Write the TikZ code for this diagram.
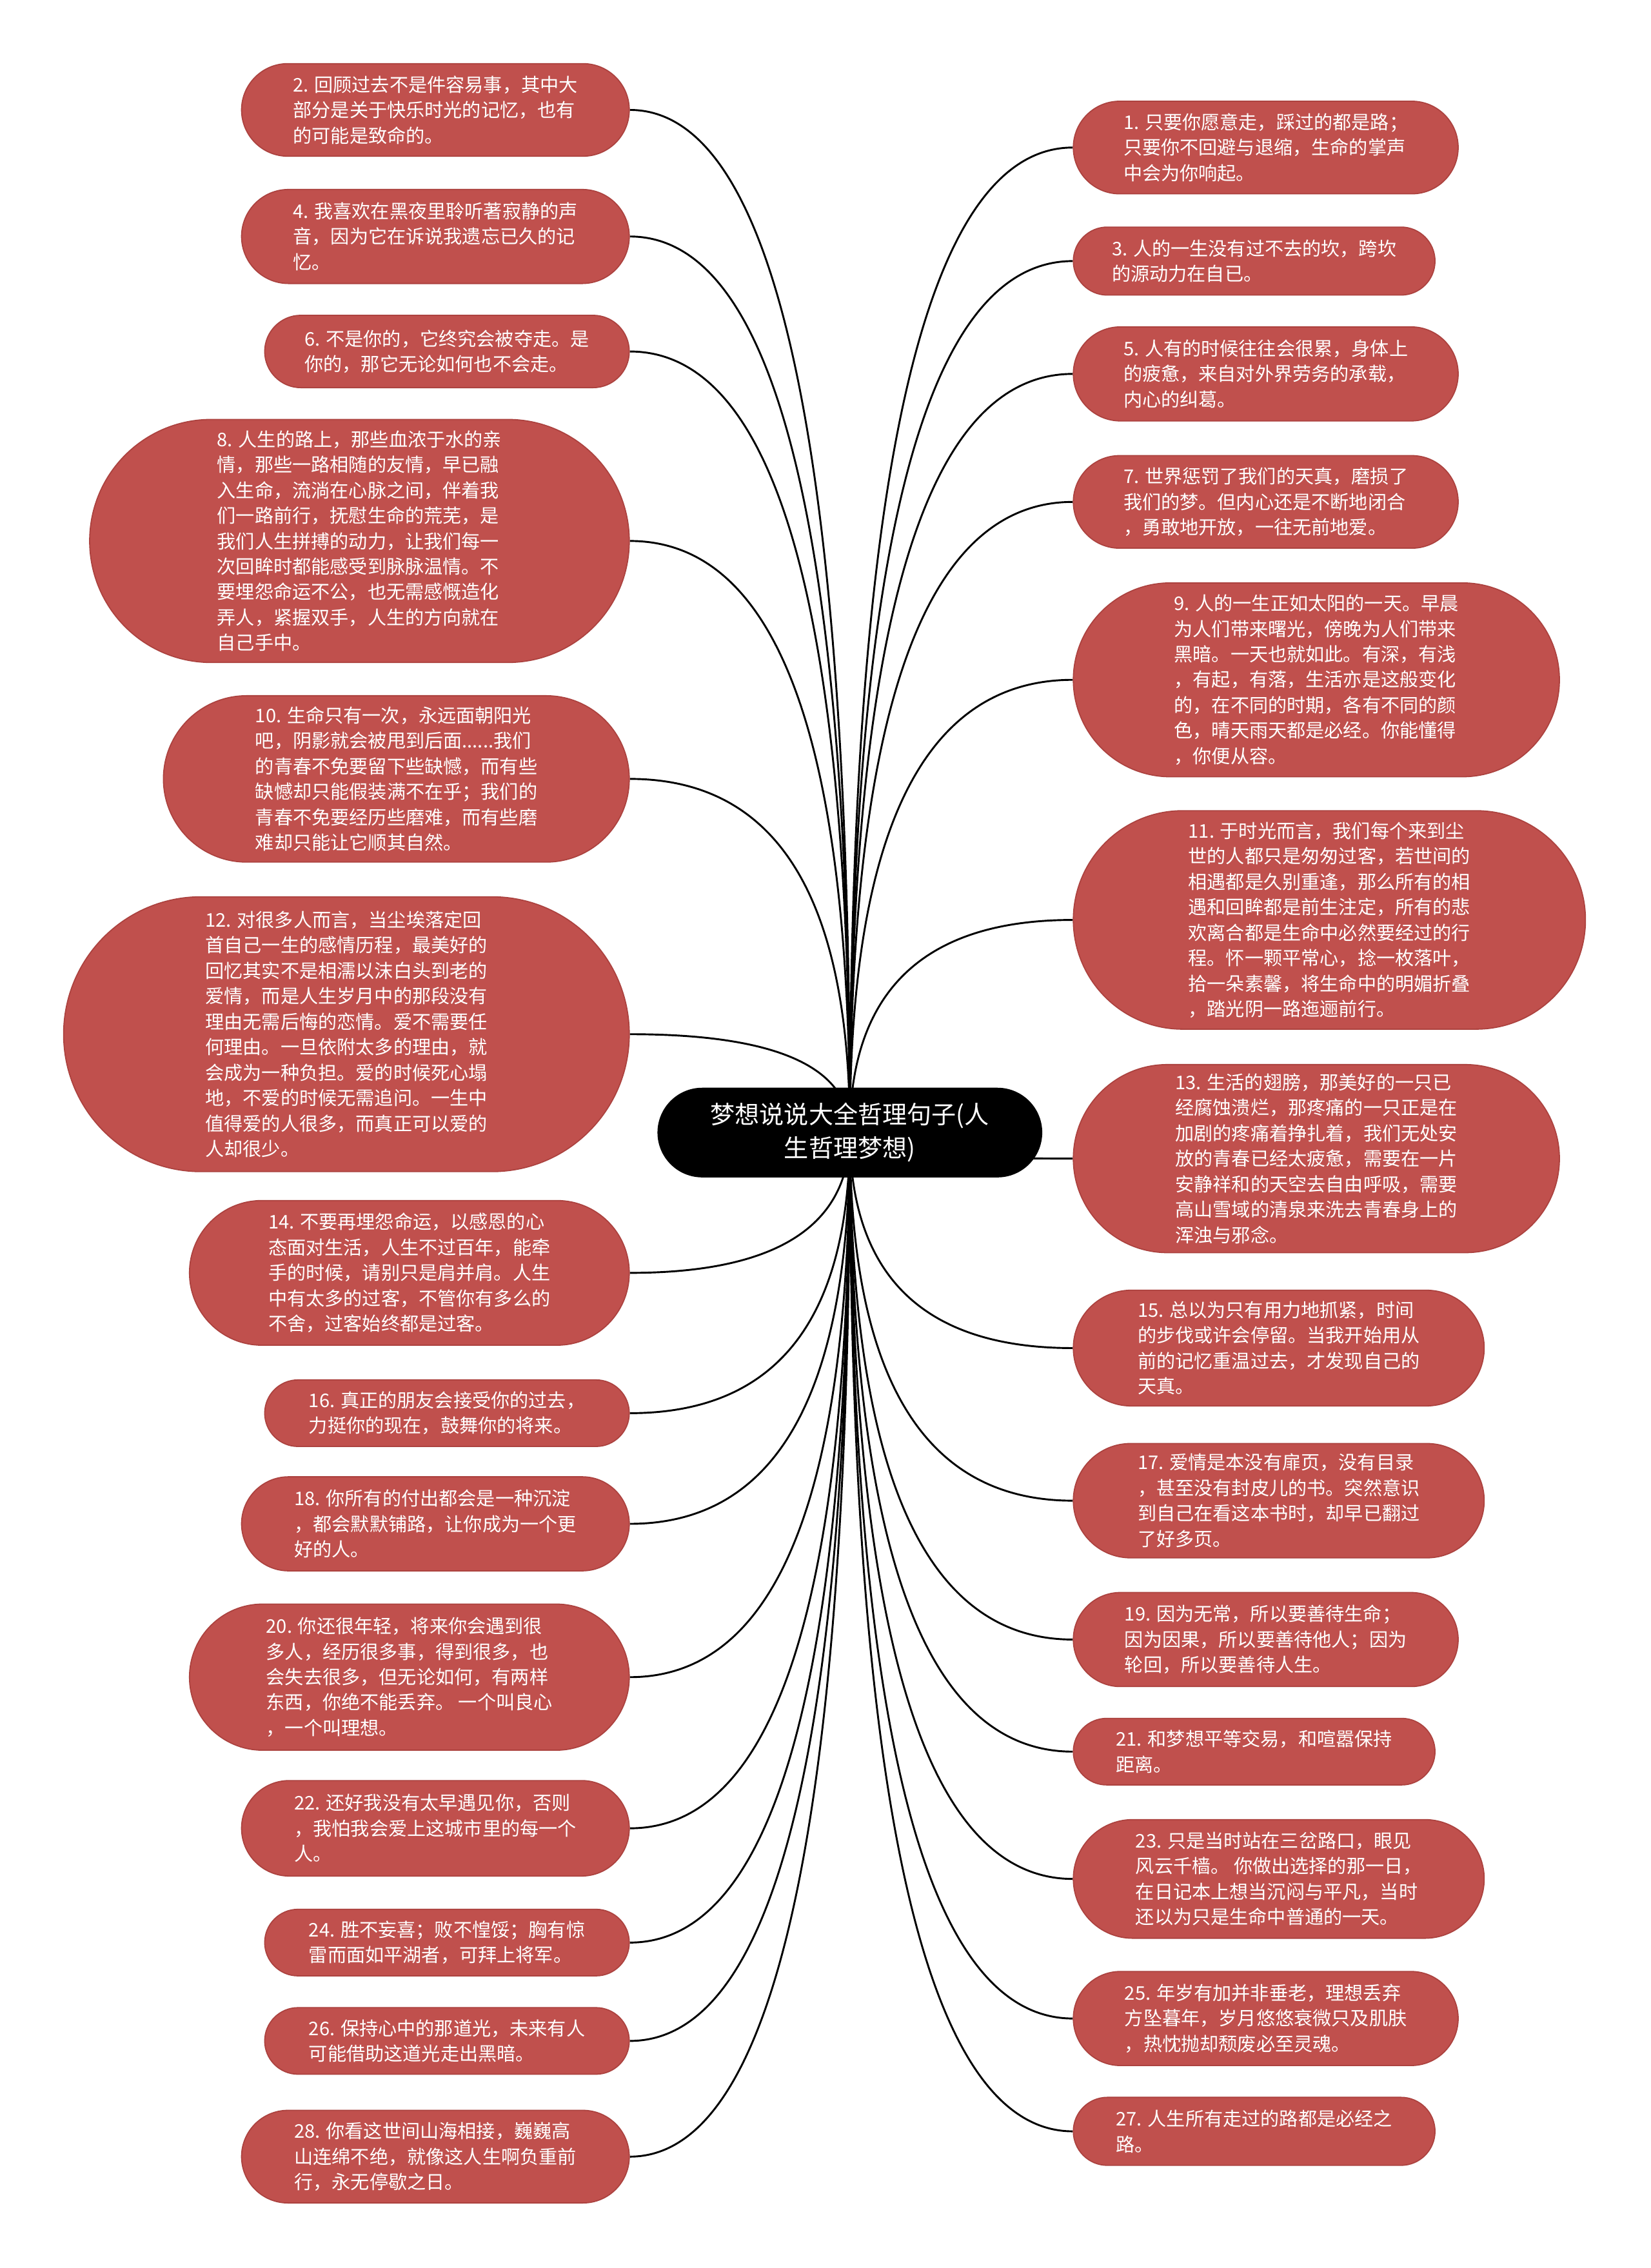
\documentclass[tikz,border=0pt]{standalone}
\usepackage{fontspec}
\setmainfont{Noto Sans CJK SC}
\usepackage{xcolor}
\usepackage{tikz}
\usetikzlibrary{shapes.misc,calc,backgrounds}

\definecolor{quotered}{RGB}{192,80,77}
\definecolor{quoteline}{RGB}{172,66,63}

\tikzset{
  quote/.style={rounded rectangle, fill=quotered, draw=quoteline, line width=0.8pt,
    text=white, align=left, inner xsep=0pt, inner ysep=2pt,
    font=\fontsize{13}{17.6}\selectfont},
  title/.style={rounded rectangle, fill=black, text=white, align=center,
    inner xsep=0pt, minimum width=266pt, minimum height=62pt,
    font=\fontsize{17}{23}\selectfont},
  branch/.style={line width=1.3pt, to path={.. controls ($(\tikztostart)!0.667!(\tikztostart |- \tikztotarget)$)
    and ($(\tikztotarget)!0.667!(\tikztostart |- \tikztotarget)$) .. (\tikztotarget)}}
}

\begin{document}
\begin{tikzpicture}[x=1pt, y=-1pt]
    \useasboundingbox (0,0) rectangle (1141,1568);

    \node[title] (root) at (587.5,783) {梦想说说大全哲理句子(人\\生哲理梦想)};

    % left side
    \node[quote, minimum width=268pt, minimum height=64pt] (n2) at (301,76)
      {2. 回顾过去不是件容易事，其中大\\部分是关于快乐时光的记忆，也有\\的可能是致命的。};
    \node[quote, minimum width=268pt, minimum height=65pt] (n4) at (301,163.5)
      {4. 我喜欢在黑夜里聆听著寂静的声\\音，因为它在诉说我遗忘已久的记\\忆。};
    \node[quote, minimum width=252pt, minimum height=50pt] (n6) at (309,243)
      {6. 不是你的，它终究会被夺走。是\\你的，那它无论如何也不会走。};
    \node[quote, minimum width=373pt, minimum height=168pt] (n8) at (248.5,374)
      {8. 人生的路上，那些血浓于水的亲\\情，那些一路相随的友情，早已融\\入生命，流淌在心脉之间，伴着我\\们一路前行，抚慰生命的荒芜，是\\我们人生拼搏的动力，让我们每一\\次回眸时都能感受到脉脉温情。不\\要埋怨命运不公，也无需感慨造化\\弄人，紧握双手，人生的方向就在\\自己手中。};
    \node[quote, minimum width=322pt, minimum height=115pt] (n10) at (274,538.5)
      {10. 生命只有一次，永远面朝阳光\\吧，阴影就会被甩到后面......我们\\的青春不免要留下些缺憾，而有些\\缺憾却只能假装满不在乎；我们的\\青春不免要经历些磨难，而有些磨\\难却只能让它顺其自然。};
    \node[quote, minimum width=391pt, minimum height=190pt] (n12) at (239.5,715)
      {12. 对很多人而言，当尘埃落定回\\首自己一生的感情历程，最美好的\\回忆其实不是相濡以沫白头到老的\\爱情，而是人生岁月中的那段没有\\理由无需后悔的恋情。爱不需要任\\何理由。一旦依附太多的理由，就\\会成为一种负担。爱的时候死心塌\\地，不爱的时候无需追问。一生中\\值得爱的人很多，而真正可以爱的\\人却很少。};
    \node[quote, minimum width=304pt, minimum height=100pt] (n14) at (283,880)
      {14. 不要再埋怨命运，以感恩的心\\态面对生活，人生不过百年，能牵\\手的时候，请别只是肩并肩。人生\\中有太多的过客，不管你有多么的\\不舍，过客始终都是过客。};
    \node[quote, minimum width=252pt, minimum height=46pt] (n16) at (309,977)
      {16. 真正的朋友会接受你的过去，\\力挺你的现在，鼓舞你的将来。};
    \node[quote, minimum width=268pt, minimum height=65pt] (n18) at (301,1053.5)
      {18. 你所有的付出都会是一种沉淀\\，都会默默铺路，让你成为一个更\\好的人。};
    \node[quote, minimum width=304pt, minimum height=101pt] (n20) at (283,1159.5)
      {20. 你还很年轻，将来你会遇到很\\多人，经历很多事，得到很多，也\\会失去很多，但无论如何，有两样\\东西，你绝不能丢弃。 一个叫良心\\，一个叫理想。};
    \node[quote, minimum width=268pt, minimum height=66pt] (n22) at (301,1264)
      {22. 还好我没有太早遇见你，否则\\，我怕我会爱上这城市里的每一个\\人。};
    \node[quote, minimum width=252pt, minimum height=46pt] (n24) at (309,1343)
      {24. 胜不妄喜；败不惶馁；胸有惊\\雷而面如平湖者，可拜上将军。};
    \node[quote, minimum width=252pt, minimum height=46pt] (n26) at (309,1411)
      {26. 保持心中的那道光，未来有人\\可能借助这道光走出黑暗。};
    \node[quote, minimum width=268pt, minimum height=64pt] (n28) at (301,1491)
      {28. 你看这世间山海相接，巍巍高\\山连绵不绝，就像这人生啊负重前\\行，永无停歇之日。};

    % right side
    \node[quote, minimum width=266pt, minimum height=64pt] (n1) at (875,102)
      {1. 只要你愿意走，踩过的都是路；\\只要你不回避与退缩，生命的掌声\\中会为你响起。};
    \node[quote, minimum width=250pt, minimum height=47pt] (n3) at (867,180.5)
      {3. 人的一生没有过不去的坎，跨坎\\的源动力在自已。};
    \node[quote, minimum width=266pt, minimum height=65pt] (n5) at (875,258.5)
      {5. 人有的时候往往会很累，身体上\\的疲惫，来自对外界劳务的承载，\\内心的纠葛。};
    \node[quote, minimum width=266pt, minimum height=64pt] (n7) at (875,347)
      {7. 世界惩罚了我们的天真，磨损了\\我们的梦。但内心还是不断地闭合\\，勇敢地开放，一往无前地爱。};
    \node[quote, minimum width=336pt, minimum height=134pt] (n9) at (910,470)
      {9. 人的一生正如太阳的一天。早晨\\为人们带来曙光，傍晚为人们带来\\黑暗。一天也就如此。有深，有浅\\，有起，有落，生活亦是这般变化\\的，在不同的时期，各有不同的颜\\色，晴天雨天都是必经。你能懂得\\，你便从容。};
    \node[quote, minimum width=354pt, minimum height=151pt] (n11) at (919,636)
      {11. 于时光而言，我们每个来到尘\\世的人都只是匆匆过客，若世间的\\相遇都是久别重逢，那么所有的相\\遇和回眸都是前生注定，所有的悲\\欢离合都是生命中必然要经过的行\\程。怀一颗平常心，捻一枚落叶，\\拾一朵素馨，将生命中的明媚折叠\\，踏光阴一路迤逦前行。};
    \node[quote, minimum width=336pt, minimum height=130pt] (n13) at (910,801)
      {13. 生活的翅膀，那美好的一只已\\经腐蚀溃烂，那疼痛的一只正是在\\加剧的疼痛着挣扎着，我们无处安\\放的青春已经太疲惫，需要在一片\\安静祥和的天空去自由呼吸，需要\\高山雪域的清泉来洗去青春身上的\\浑浊与邪念。};
    \node[quote, minimum width=284pt, minimum height=80pt] (n15) at (884,932)
      {15. 总以为只有用力地抓紧，时间\\的步伐或许会停留。当我开始用从\\前的记忆重温过去，才发现自己的\\天真。};
    \node[quote, minimum width=284pt, minimum height=79pt] (n17) at (884,1037.5)
      {17. 爱情是本没有扉页，没有目录\\，甚至没有封皮儿的书。突然意识\\到自己在看这本书时，却早已翻过\\了好多页。};
    \node[quote, minimum width=266pt, minimum height=65pt] (n19) at (875,1133.5)
      {19. 因为无常，所以要善待生命；\\因为因果，所以要善待他人；因为\\轮回，所以要善待人生。};
    \node[quote, minimum width=250pt, minimum height=46pt] (n21) at (867,1211)
      {21. 和梦想平等交易，和喧嚣保持\\距离。};
    \node[quote, minimum width=284pt, minimum height=82pt] (n23) at (884,1299)
      {23. 只是当时站在三岔路口，眼见\\风云千樯。 你做出选择的那一日，\\在日记本上想当沉闷与平凡，当时\\还以为只是生命中普通的一天。};
    \node[quote, minimum width=266pt, minimum height=65pt] (n25) at (875,1395.5)
      {25. 年岁有加并非垂老，理想丢弃\\方坠暮年，岁月悠悠衰微只及肌肤\\，热忱抛却颓废必至灵魂。};
    \node[quote, minimum width=250pt, minimum height=47pt] (n27) at (867,1473.5)
      {27. 人生所有走过的路都是必经之\\路。};

    \begin{pgfonlayer}{background}
      \fill[white] (0,0) rectangle (1141,1568);
      \foreach \n in {n2,n4,n6,n8,n10,n12,n14,n16,n18,n20,n22,n24,n26,n28}
        \draw[branch] (root.center) to (\n.east);
      \foreach \n in {n1,n3,n5,n7,n9,n11,n13,n15,n17,n19,n21,n23,n25,n27}
        \draw[branch] (root.center) to (\n.west);
    \end{pgfonlayer}
\end{tikzpicture}
\end{document}
